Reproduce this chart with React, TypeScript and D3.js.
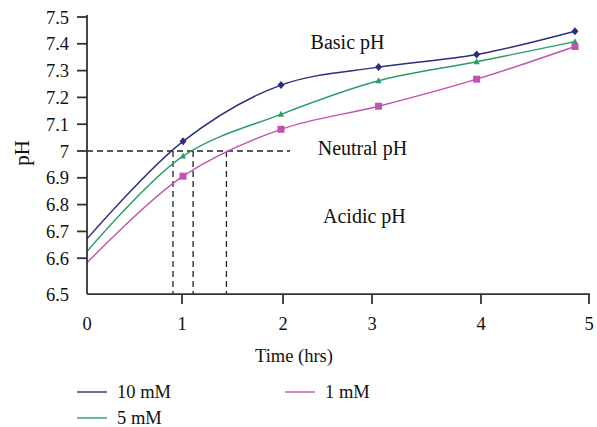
import React, { useEffect, useRef } from 'react';
import * as d3 from 'd3';

// time axis ticks (the printed axis is not evenly spaced)
const timeTicks = [0, 1, 2, 3, 4, 5];
const timeTickPx = [87, 182, 283, 372, 481, 589];
const times = [0, 1.01, 1.98, 3.06, 3.96, 4.87];

const phTicks = [6.6, 6.7, 6.8, 6.9, 7, 7.1, 7.2, 7.3, 7.4, 7.5];
const phBottom = 6.466; // axis floor, labelled "6.5"

const ph10 = [6.672, 7.036, 7.246, 7.313, 7.36, 7.447];
const ph5 = [6.625, 6.981, 7.137, 7.262, 7.333, 7.408];
const ph1 = [6.583, 6.906, 7.081, 7.167, 7.268, 7.39];

// times where each curve crosses pH 7
const neutralTimes = [0.905, 1.11, 1.44];

const series = [
  { name: '10 mM', values: ph10, color: '#2b2e7e', marker: 'diamond' },
  { name: '5 mM', values: ph5, color: '#2a9d68', marker: 'triangle' },
  { name: '1 mM', values: ph1, color: '#c152b1', marker: 'square' },
];

const regions = [
  { label: 'Basic pH', t: 2.31, ph: 7.38 },
  { label: 'Neutral pH', t: 2.39, ph: 6.985 },
  { label: 'Acidic pH', t: 2.45, ph: 6.73 },
];

const W = 597;
const H = 427;
const font = '"Liberation Serif", "Times New Roman", serif';

export default function App() {
  const ref = useRef<SVGSVGElement>(null);

  useEffect(() => {
    const svg = d3.select(ref.current);
    svg.selectAll('*').remove();

    const x = d3.scaleLinear().domain(timeTicks).range(timeTickPx);
    const y = d3.scaleLinear().domain([7, 7.5]).range([151, 17]);
    const y0 = y(phBottom);
    const axisColor = '#333';

    // dashed guides at pH 7
    const guides = svg.append('g').attr('stroke', '#222').attr('stroke-width', 1.3).attr('stroke-dasharray', '6,4').attr('fill', 'none');
    guides.append('line').attr('x1', x(0)).attr('x2', 290).attr('y1', y(7)).attr('y2', y(7));
    guides.selectAll('line.v').data(neutralTimes).join('line').attr('class', 'v')
      .attr('x1', d => x(d)).attr('x2', d => x(d)).attr('y1', y(7)).attr('y2', y0);

    // lines
    const line = d3.line<number>().x((_, i) => x(times[i])).y(d => y(d)).curve(d3.curveCatmullRom.alpha(0.5));
    series.forEach(s => {
      svg.append('path').attr('d', line(s.values)).attr('fill', 'none').attr('stroke', s.color).attr('stroke-width', 1.4);
      const g = svg.append('g').attr('fill', s.color);
      const pts = s.values.slice(1).map((v, i) => [x(times[i + 1]), y(v)]);
      pts.forEach(([px, py]) => {
        if (s.marker === 'diamond') {
          g.append('path').attr('d', `M${px},${py - 4}L${px + 3.5},${py}L${px},${py + 4}L${px - 3.5},${py}Z`);
        } else if (s.marker === 'triangle') {
          g.append('path').attr('d', `M${px},${py - 3.5}L${px + 3.2},${py + 2.5}L${px - 3.2},${py + 2.5}Z`);
        } else {
          g.append('rect').attr('x', px - 3.5).attr('y', py - 3.5).attr('width', 7).attr('height', 7);
        }
      });
    });

    // axes
    const ax = svg.append('g').attr('stroke', axisColor).attr('stroke-width', 1.8);
    ax.append('line').attr('x1', x(0)).attr('x2', x(0)).attr('y1', y(7.5) - 2).attr('y2', y0);
    ax.append('line').attr('x1', x(0)).attr('x2', x(5) + 1).attr('y1', y0).attr('y2', y0);
    ax.selectAll('line.yt').data(phTicks).join('line').attr('class', 'yt')
      .attr('x1', x(0) - 10).attr('x2', x(0)).attr('y1', d => y(d)).attr('y2', d => y(d));
    ax.selectAll('line.xt').data(timeTicks.slice(1)).join('line').attr('class', 'xt')
      .attr('x1', d => x(d)).attr('x2', d => x(d)).attr('y1', y0).attr('y2', y0 + 10);

    const txt = svg.append('g').attr('font-family', font).attr('font-size', 18.5).attr('fill', '#111');
    txt.selectAll('text.yl').data([phBottom, ...phTicks]).join('text').attr('class', 'yl')
      .attr('x', 69).attr('y', d => y(d) + 6.5).attr('text-anchor', 'end')
      .text(d => (d === phBottom ? '6.5' : d3.format('')(d)));
    txt.selectAll('text.xl').data(timeTicks).join('text').attr('class', 'xl')
      .attr('x', d => x(d)).attr('y', y0 + 36).attr('text-anchor', 'middle').text(d => d);

    txt.append('text').attr('x', 294).attr('y', 362).attr('text-anchor', 'middle').text('Time (hrs)');
    txt.append('text').attr('transform', `translate(29,${153}) rotate(-90)`).attr('text-anchor', 'middle')
      .attr('font-size', 21).text('pH');

    txt.selectAll('text.reg').data(regions).join('text').attr('class', 'reg')
      .attr('x', d => x(d.t)).attr('y', d => y(d.ph)).attr('font-size', 20).text(d => d.label);

    // legend
    const legendPos = [[77, 392], [77, 418], [285, 392]];
    series.forEach((s, i) => {
      const [lx, ly] = legendPos[i];
      svg.append('line').attr('x1', lx).attr('x2', lx + 30).attr('y1', ly).attr('y2', ly).attr('stroke', s.color).attr('stroke-width', 1.4);
      txt.append('text').attr('x', lx + 40).attr('y', ly + 5.5).text(s.name);
    });
  }, []);

  return <svg ref={ref} width={W} height={H} style={{ position: 'absolute', left: 0, top: 0, background: '#fff' }} />;
}
